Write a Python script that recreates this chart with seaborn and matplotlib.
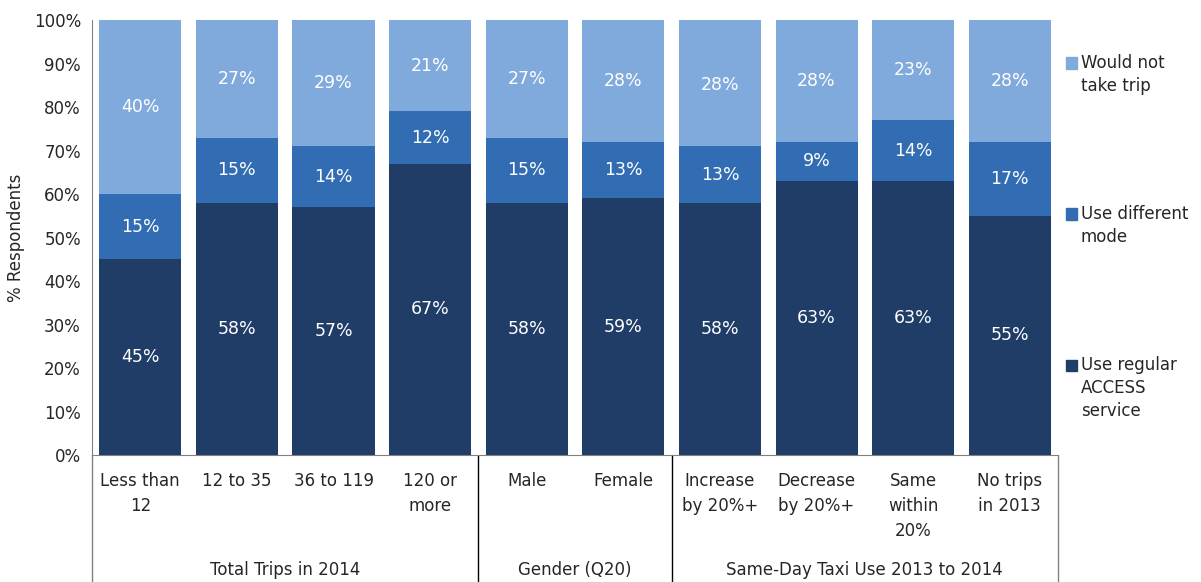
import pandas as pd
import matplotlib.pyplot as plt
import seaborn as sns
from matplotlib.patches import Rectangle

# datos del grafico
categories = ['Less than\n12', '12 to 35', '36 to 119', '120 or\nmore', 'Male', 'Female',
              'Increase\nby 20%+', 'Decrease\nby 20%+', 'Same\nwithin\n20%', 'No trips\nin 2013']
regular = [45, 58, 57, 67, 58, 59, 58, 63, 63, 55]
different = [15, 15, 14, 12, 15, 13, 13, 9, 14, 17]
not_take = [40, 27, 29, 21, 27, 28, 28, 28, 23, 28]
total = [100] * 10  # cada barra suma 100% (valores redondeados)
groups = ['Total Trips in 2014', 'Gender (Q20)', 'Same-Day Taxi Use 2013 to 2014']
group_sizes = [4, 2, 4]
series_names = ['Would not\ntake trip', 'Use different\nmode', 'Use regular\nACCESS\nservice']

df = pd.DataFrame({'cat': categories, 'regular': regular, 'different': different,
                   'not_take': not_take, 'total': total})
df['mid_top'] = df['regular'] + df['different']

sns.set_style('white')
plt.rcParams['font.family'] = ['DejaVu Sans']

c_light = '#80AADC'
c_mid = '#326CB2'
c_dark = '#1F3D66'
colors = [c_light, c_mid, c_dark]

fig = plt.figure(figsize=(12.01, 5.82), dpi=100)
ax = fig.add_axes([0.0766, 0.218, 0.8044, 0.7475])

w = 0.85
sns.barplot(data=df, x='cat', y='total', color=c_light, width=w, saturation=1, linewidth=0, ax=ax)
sns.barplot(data=df, x='cat', y='mid_top', color=c_mid, width=w, saturation=1, linewidth=0, ax=ax)
sns.barplot(data=df, x='cat', y='regular', color=c_dark, width=w, saturation=1, linewidth=0, ax=ax)

# etiquetas dentro de las barras
for i in range(len(categories)):
    segs = [(0, regular[i]), (regular[i], different[i]), (regular[i] + different[i], not_take[i])]
    for base, val in segs:
        ax.text(i, base + val / 2, f'{val}%', ha='center', va='center', color='white', fontsize=12.5)

ax.set_ylim(0, 100)
ax.set_xlim(-0.5, len(categories) - 0.5)
ax.set_yticks(range(0, 101, 10))
ax.set_yticklabels([f'{v}%' for v in range(0, 101, 10)], fontsize=12)
ax.set_xticklabels(categories, fontsize=12, linespacing=1.5)
ax.tick_params(axis='x', length=0, pad=12)
ax.tick_params(axis='y', length=0, pad=8)
ax.set_xlabel('')
ax.set_ylabel('% Respondents', fontsize=12, labelpad=6)

for s in ['top', 'right']:
    ax.spines[s].set_visible(False)
for s in ['left', 'bottom']:
    ax.spines[s].set_color('#808080')

# separadores de grupos y etiquetas de grupo
trans = ax.get_xaxis_transform()
edges = [-0.5]
for n in group_sizes:
    edges.append(edges[-1] + n)
for k, x in enumerate(edges):
    ax.plot([x, x], [0, -0.3], transform=trans, color='#808080' if k in (0, len(edges) - 1) else 'black',
            lw=1, clip_on=False)
for k, g in enumerate(groups):
    ax.text((edges[k] + edges[k + 1]) / 2, -0.265, g, transform=trans, ha='center', va='center', fontsize=12)

# leyenda a la derecha (cuadro alineado con la primera linea)
legend_y = [63, 214, 365]  # pixeles desde arriba
for name, col, yp in zip(series_names, colors, legend_y):
    yf = 1 - yp / 582
    fig.patches.append(Rectangle((1066 / 1201, yf - 5.5 / 582), 11 / 1201, 11 / 582,
                                 transform=fig.transFigure, color=col))
    fig.text(1081 / 1201, yf + 9 / 582, name, ha='left', va='top', fontsize=12, linespacing=1.35)

fig.savefig('out.png', dpi=100)
